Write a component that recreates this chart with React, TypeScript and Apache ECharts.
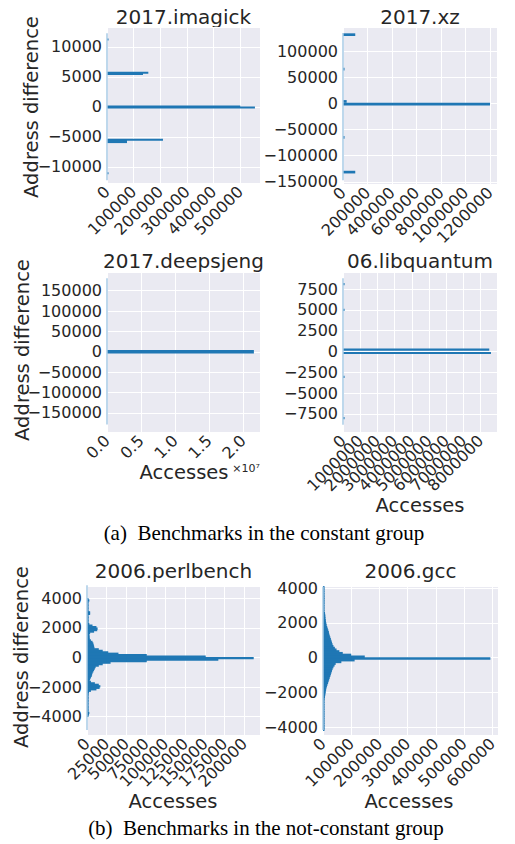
import React, { useEffect, useRef } from "react";
import * as echarts from "echarts";

// ---- data ----
// 2017.imagick : bins of address difference (y) and access counts (x)
const imagickY = [11250, 5700, 5500, 100, -100, -5450, -5650, -5850, -11050];
const imagickCount = [3000, 155000, 135000, 500000, 555000, 210000, 75000, 75000, 3000];
// 2017.xz
const xzY = [132000, 66000, 4000, -1000, -65000, -131500];
const xzCount = [100000, 9000, 30000, 1200000, 9000, 100000];
// 2017.deepsjeng
const deepsjengY = [0];
const deepsjengCount = [21600000];
// 06.libquantum
const libquantumY = [8100, 5000, 220, -180, -3050, -8000];
const libquantumCount = [90000, 90000, 8500000, 8600000, 90000, 90000];
// 2006.perlbench : 100-wide bins from +3950 down to -3950
const perlbenchCount = [
  1500, 3000, 1000, 1000, 800, 800, 1000, 1000, 1500, 4000,
  4000, 1500, 1500, 1500, 1500, 1800, 2000, 3000, 7000, 12000,
  13500, 13000, 9000, 4000, 3000, 3200, 3400, 3500, 5000, 7000,
  8000, 8500, 9000, 9500, 15000, 20000, 27000, 40000, 76000, 151000,
  212000, 167000, 76000, 30000, 20000, 15000, 11000, 10000, 9000, 8000,
  7000, 6500, 6000, 5000, 4000, 3500, 5000, 10000, 15000, 17000,
  16000, 12000, 5000, 2500, 2000, 2000, 1800, 2000, 1800, 2000,
  1800, 1600, 1800, 1500, 1600, 1500, 1400, 3000, 2500, 1000,
];
// 2006.gcc : 100-wide bins from +4050 down to -4150
const gccCount = [
  500, 500, 800, 800, 1000, 1000, 1200, 1400, 1600, 2000,
  2400, 2800, 3200, 4000, 5500, 7000, 8000, 8500, 9000, 10000,
  10500, 12000, 13000, 15000, 17000, 19000, 21000, 22000, 24000, 26000,
  28000, 30000, 32000, 34000, 37000, 42000, 48000, 58000, 70000, 100000,
  148000, 593000, 112000, 65000, 45000, 41000, 37000, 34000, 32000, 30000,
  28000, 26000, 24000, 22000, 20000, 18000, 16000, 14000, 12000, 11000,
  10000, 9000, 8000, 7000, 6000, 5000, 4500, 4000, 3000, 2500,
  2000, 1800, 1600, 1400, 1200, 1100, 1000, 900, 800, 700,
  600, 500, 400,
];
// faint zero-count edge drawn along x = 0 (y extent of each histogram)
const imagickSpan = [12300, -12200];
const xzSpan = [135000, -147000];
const deepsjengSpan = [180000, -178000];
const libquantumSpan = [8800, -8800];
const perlbenchSpan = [4900, -4900];
const gccSpan = [4080, -4170];

const titles = ["2017.imagick", "2017.xz", "2017.deepsjeng", "06.libquantum", "2006.perlbench", "2006.gcc"];

const BLUE = "#1f77b4";
const LIGHT = "#a9cbe6";
const TXT = "#262626";
const FONT = "DejaVu Sans";

const fmtNum = (v: number) => (v < 0 ? "\u2212" + Math.abs(v) : String(v));

function histSeries(gi: number, ys: number[], counts: number[], binW: number) {
  const data = counts.map((c, i) => [c, ys[i]]);
  return {
    type: "custom",
    xAxisIndex: gi,
    yAxisIndex: gi,
    clip: true,
    data,
    renderItem: (_p: any, api: any) => {
      const c = api.value(0);
      const y = api.value(1);
      const p0 = api.coord([0, y + binW / 2]);
      const p1 = api.coord([c, y - binW / 2]);
      const h = Math.max(p1[1] - p0[1], 1);
      return {
        type: "rect",
        shape: {
          x: p0[0],
          y: p0[1] - 0.4,
          width: Math.max(p1[0] - p0[0], 1.5),
          height: h + 0.8,
        },
        style: { fill: BLUE },
      };
    },
  };
}

function edgeSeries(gi: number, span: number[]) {
  return {
    type: "line",
    xAxisIndex: gi,
    yAxisIndex: gi,
    symbol: "none",
    silent: true,
    lineStyle: { color: LIGHT, width: 1.5 },
    data: [[0, span[0]], [0, span[1]]],
  };
}

function App() {
  const ref = useRef<HTMLDivElement>(null);
  useEffect(() => {
    document.body.style.margin = "0";
    const chart = echarts.init(ref.current!, null, { renderer: "svg" });

    const grids = [
      { left: 107, top: 27, width: 153, height: 156 },
      { left: 343, top: 27, width: 154, height: 157 },
      { left: 107, top: 272, width: 153, height: 160 },
      { left: 343, top: 272, width: 154, height: 160 },
      { left: 87, top: 586, width: 173, height: 149 },
      { left: 323, top: 586, width: 175, height: 149 },
    ].map((g) => ({ ...g, show: true, backgroundColor: "#EAEAF2", borderWidth: 0, containLabel: false }));

    // min is a hair below 0 so that the 0 label is an ordinary tick
    const xr = [
      [-1, 574000, 100000],
      [-1, 1257000, 200000],
      [-1, 22500000, 5000000],
      [-1, 8950000, 1000000],
      [-1, 220000, 25000],
      [-1, 620000, 100000],
    ];
    const yr = [
      [-12667, 13333, 5000],
      [-154300, 146700, 50000],
      [-196600, 195600, 50000],
      [-9670, 9550, 2500],
      [-5240, 4830, 2000],
      [-4460, 4120, 2000],
    ];

    const xAxis = xr.map(([mn, mx, st], i) => ({
      type: "value",
      gridIndex: i,
      min: mn,
      max: mx,
      minInterval: st,
      maxInterval: st,
      splitNumber: Math.round((mx - mn) / st),
      axisLine: { show: false },
      axisTick: { show: false },
      splitLine: { show: true, lineStyle: { color: "#ffffff", width: 1 } },
      axisLabel: {
        showMinLabel: false,
        showMaxLabel: false,
        hideOverlap: false,
        rotate: 45,
        margin: 6,
        fontSize: 16,
        fontFamily: FONT,
        color: TXT,
        formatter: i === 2 ? (v: number) => (v / 1e7).toFixed(1) : (v: number) => fmtNum(v),
      },
    }));
    const yAxis = yr.map(([mn, mx, st], i) => ({
      type: "value",
      gridIndex: i,
      min: mn,
      max: mx,
      minInterval: st,
      maxInterval: st,
      splitNumber: Math.round((mx - mn) / st),
      axisLine: { show: false },
      axisTick: { show: false },
      splitLine: { show: true, lineStyle: { color: "#ffffff", width: 1 } },
      axisLabel: {
        showMinLabel: false,
        showMaxLabel: false,
        hideOverlap: false,
        margin: 5,
        fontSize: 16,
        fontFamily: FONT,
        color: TXT,
        formatter: (v: number) => fmtNum(v),
      },
    }));

    const perlbenchY = perlbenchCount.map((_, i) => 3950 - 100 * i);
    const gccY = gccCount.map((_, i) => 4050 - 100 * i);

    const series: any[] = [
      edgeSeries(0, imagickSpan),
      histSeries(0, imagickY, imagickCount, 200),
      edgeSeries(1, xzSpan),
      histSeries(1, xzY, xzCount, 3600),
      edgeSeries(2, deepsjengSpan),
      histSeries(2, deepsjengY, deepsjengCount, 7000),
      edgeSeries(3, libquantumSpan),
      histSeries(3, libquantumY, libquantumCount, 170),
      edgeSeries(4, perlbenchSpan),
      histSeries(4, perlbenchY, perlbenchCount, 100),
      edgeSeries(5, gccSpan),
      histSeries(5, gccY, gccCount, 100),
    ];

    const titleStyle = { fontSize: 20, fontFamily: FONT, fill: TXT, textAlign: "center", textVerticalAlign: "middle" };
    const titlePos = [
      [183.5, 17], [420, 17], [183.5, 261], [420, 261], [173.5, 571], [410.5, 571],
    ];
    const graphic: any[] = titles.map((t, i) => ({
      type: "text",
      x: titlePos[i][0],
      y: titlePos[i][1],
      style: { ...titleStyle, text: t },
    }));
    const ylabPos = [[31, 107], [22, 350], [21, 657]];
    ylabPos.forEach(([x, y]) =>
      graphic.push({
        type: "text",
        x,
        y,
        rotation: Math.PI / 2,
        style: { ...titleStyle, fontSize: 19.5, text: "Address difference" },
      })
    );
    const xlabPos = [[184, 472], [420, 505], [173, 801], [409, 801]];
    xlabPos.forEach(([x, y]) =>
      graphic.push({
        type: "text",
        x,
        y,
        style: { ...titleStyle, fontSize: 19.5, text: "Accesses" },
      })
    );
    graphic.push({
      type: "text",
      x: 246,
      y: 468,
      style: { text: "\u00d710\u2077", fontSize: 11, fontFamily: FONT, fill: TXT, textAlign: "center", textVerticalAlign: "middle" },
    });
    graphic.push({
      type: "text",
      x: 264,
      y: 533,
      style: {
        text: "(a)  Benchmarks in the constant group",
        fontSize: 21,
        fontFamily: "Liberation Serif",
        fill: "#000",
        textAlign: "center",
        textVerticalAlign: "middle",
      },
    });
    graphic.push({
      type: "text",
      x: 266,
      y: 828,
      style: {
        text: "(b)  Benchmarks in the not-constant group",
        fontSize: 21,
        fontFamily: "Liberation Serif",
        fill: "#000",
        textAlign: "center",
        textVerticalAlign: "middle",
      },
    });

    chart.setOption({
      animation: false,
      backgroundColor: "#ffffff",
      grid: grids,
      xAxis,
      yAxis,
      series,
      graphic,
    });
    return () => chart.dispose();
  }, []);
  return <div ref={ref} style={{ width: 515, height: 844 }} />;
}

export default App;
